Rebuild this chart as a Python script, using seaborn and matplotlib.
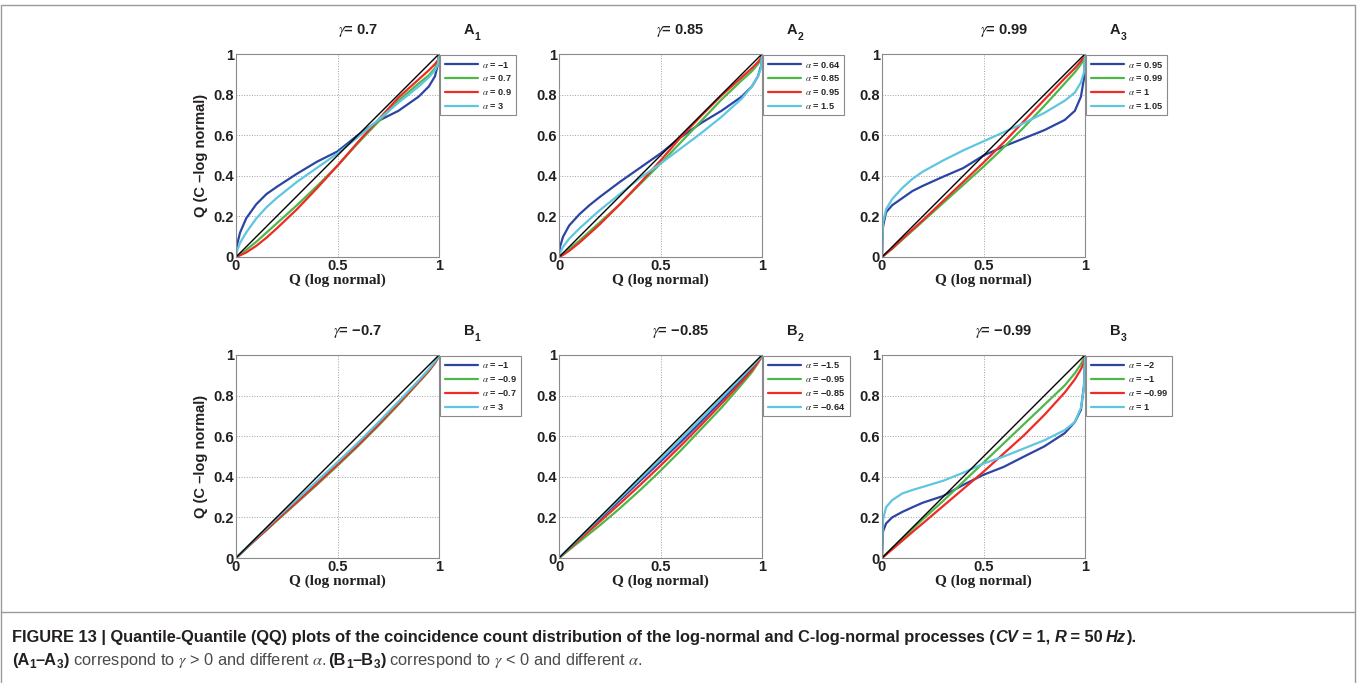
import matplotlib
matplotlib.use("Agg")
import matplotlib.pyplot as plt
from matplotlib.lines import Line2D
from matplotlib import font_manager
import numpy as np
import pandas as pd
import seaborn as sns

# ---------------------------------------------------------------- data
# quantiles of the log-normal process (shared x grid of every panel)
Q = [0, 0.005, 0.02, 0.05, 0.1, 0.15, 0.2, 0.3, 0.4, 0.5, 0.6, 0.7,
     0.8, 0.9, 0.95, 0.98, 0.995, 1]
DIAG = [0, 1]

GAMMAS = ["0.7", "0.85", "0.99", "\u22120.7", "\u22120.85", "\u22120.99"]
PANELS = ["A", "A", "A", "B", "B", "B"]
PANEL_IDX = ["1", "2", "3", "1", "2", "3"]

A1_ALPHAS = ["\u22121", "0.7", "0.9", "3"]
A1_BLUE = [0, 0.06, 0.12, 0.19, 0.26, 0.31, 0.345, 0.41, 0.47, 0.52, 0.60, 0.67, 0.72, 0.79, 0.84, 0.89, 0.95, 1]
A1_GREEN = [0, 0.003, 0.013, 0.035, 0.075, 0.12, 0.165, 0.255, 0.35, 0.45, 0.56, 0.665, 0.77, 0.855, 0.895, 0.93, 0.96, 1]
A1_RED = [0, 0.002, 0.008, 0.022, 0.055, 0.095, 0.14, 0.235, 0.34, 0.45, 0.565, 0.675, 0.785, 0.875, 0.92, 0.95, 0.97, 1]
A1_CYAN = [0, 0.03, 0.07, 0.12, 0.19, 0.245, 0.29, 0.37, 0.44, 0.51, 0.59, 0.675, 0.76, 0.84, 0.885, 0.92, 0.95, 1]

A2_ALPHAS = ["0.64", "0.85", "0.95", "1.5"]
A2_BLUE = [0, 0.05, 0.1, 0.155, 0.21, 0.255, 0.295, 0.37, 0.44, 0.51, 0.59, 0.66, 0.72, 0.79, 0.84, 0.89, 0.94, 1]
A2_GREEN = [0, 0.003, 0.015, 0.04, 0.08, 0.125, 0.17, 0.26, 0.36, 0.46, 0.565, 0.67, 0.775, 0.87, 0.915, 0.95, 0.975, 1]
A2_RED = [0, 0.002, 0.01, 0.03, 0.07, 0.115, 0.16, 0.26, 0.365, 0.475, 0.59, 0.695, 0.795, 0.885, 0.93, 0.96, 0.98, 1]
A2_CYAN = [0, 0.02, 0.05, 0.09, 0.14, 0.185, 0.23, 0.31, 0.39, 0.46, 0.535, 0.61, 0.69, 0.78, 0.84, 0.89, 0.93, 1]

A3_ALPHAS = ["0.95", "0.99", "1", "1.05"]
A3_BLUE = [0, 0.15, 0.22, 0.255, 0.29, 0.325, 0.35, 0.395, 0.438, 0.5, 0.545, 0.585, 0.625, 0.675, 0.72, 0.79, 0.88, 1]
A3_GREEN = [0, 0.004, 0.016, 0.04, 0.085, 0.13, 0.175, 0.265, 0.355, 0.445, 0.54, 0.64, 0.745, 0.855, 0.91, 0.95, 0.975, 1]
A3_RED = [0, 0.004, 0.017, 0.042, 0.09, 0.135, 0.18, 0.275, 0.37, 0.465, 0.565, 0.67, 0.775, 0.88, 0.93, 0.965, 0.985, 1]
A3_CYAN = [0, 0.17, 0.235, 0.285, 0.34, 0.385, 0.42, 0.475, 0.525, 0.57, 0.615, 0.66, 0.71, 0.77, 0.81, 0.86, 0.91, 1]

B1_ALPHAS = ["\u22121", "\u22120.9", "\u22120.7", "3"]
B1_BLUE = [0, 0.005, 0.019, 0.048, 0.095, 0.14, 0.19, 0.28, 0.37, 0.465, 0.56, 0.66, 0.765, 0.87, 0.925, 0.965, 0.99, 1]
B1_GREEN = [0, 0.005, 0.019, 0.047, 0.093, 0.137, 0.183, 0.272, 0.362, 0.455, 0.55, 0.65, 0.755, 0.865, 0.92, 0.96, 0.985, 1]
B1_RED = [0, 0.005, 0.019, 0.048, 0.094, 0.139, 0.186, 0.276, 0.367, 0.46, 0.555, 0.655, 0.76, 0.868, 0.923, 0.962, 0.987, 1]
B1_CYAN = [0, 0.005, 0.02, 0.05, 0.1, 0.147, 0.196, 0.288, 0.38, 0.472, 0.567, 0.667, 0.77, 0.875, 0.93, 0.968, 0.99, 1]

B2_ALPHAS = ["\u22121.5", "\u22120.95", "\u22120.85", "\u22120.64"]
B2_BLUE = [0, 0.005, 0.019, 0.048, 0.096, 0.143, 0.19, 0.285, 0.38, 0.475, 0.572, 0.672, 0.775, 0.88, 0.935, 0.97, 0.99, 1]
B2_GREEN = [0, 0.004, 0.016, 0.04, 0.08, 0.12, 0.16, 0.245, 0.335, 0.43, 0.53, 0.635, 0.74, 0.855, 0.915, 0.96, 0.985, 1]
B2_RED = [0, 0.005, 0.018, 0.045, 0.09, 0.134, 0.178, 0.268, 0.36, 0.455, 0.553, 0.655, 0.76, 0.868, 0.925, 0.965, 0.988, 1]
B2_CYAN = [0, 0.005, 0.02, 0.05, 0.099, 0.148, 0.197, 0.294, 0.39, 0.487, 0.585, 0.685, 0.787, 0.89, 0.943, 0.975, 0.992, 1]

B3_ALPHAS = ["\u22122", "\u22121", "\u22120.99", "1"]
B3_BLUE = [0, 0.13, 0.17, 0.2, 0.227, 0.25, 0.272, 0.305, 0.36, 0.41, 0.449, 0.5, 0.55, 0.615, 0.67, 0.73, 0.85, 1]
B3_GREEN = [0, 0.005, 0.019, 0.048, 0.095, 0.142, 0.19, 0.28, 0.375, 0.47, 0.565, 0.66, 0.755, 0.85, 0.91, 0.955, 0.985, 1]
B3_RED = [0, 0.004, 0.017, 0.042, 0.085, 0.128, 0.17, 0.255, 0.34, 0.425, 0.515, 0.605, 0.705, 0.815, 0.88, 0.93, 0.965, 1]
B3_CYAN = [0, 0.19, 0.25, 0.285, 0.318, 0.335, 0.35, 0.38, 0.42, 0.465, 0.5, 0.54, 0.58, 0.63, 0.67, 0.74, 0.84, 1]

X_TICKS = [0, 0.5, 1]
X_TICK_LABELS = ["0", "0.5", "1"]
Y_TICKS = [0, 0.2, 0.4, 0.6, 0.8, 1]
Y_TICK_LABELS = ["0", "0.2", "0.4", "0.6", "0.8", "1"]

CURVES = [
    (A1_ALPHAS, [A1_BLUE, A1_GREEN, A1_RED, A1_CYAN]),
    (A2_ALPHAS, [A2_BLUE, A2_GREEN, A2_RED, A2_CYAN]),
    (A3_ALPHAS, [A3_BLUE, A3_GREEN, A3_RED, A3_CYAN]),
    (B1_ALPHAS, [B1_BLUE, B1_GREEN, B1_RED, B1_CYAN]),
    (B2_ALPHAS, [B2_BLUE, B2_GREEN, B2_RED, B2_CYAN]),
    (B3_ALPHAS, [B3_BLUE, B3_GREEN, B3_RED, B3_CYAN]),
]

# ---------------------------------------------------------------- style
LINE_COLORS = ["#2c45a3", "#4db848", "#ee2b24", "#5fc6df"]
SPINE = "#8a8a8a"
TEXT = "#231f20"

sns.set_style("white")
plt.rcParams["font.family"] = ["Liberation Sans", "DejaVu Sans"]
plt.rcParams["mathtext.fontset"] = "stix"

available = {f.name for f in font_manager.fontManager.ttflist}
CAPTION_FONT = "Liberation Sans Narrow" if "Liberation Sans Narrow" in available else "Liberation Sans"

W, H = 1357, 683
fig = plt.figure(figsize=(W / 100, H / 100), dpi=100)
fig.patch.set_facecolor("white")

COL_LEFT = [236, 559, 882]
ROW_TOP = [54, 355]
SIZE = 203


def px_rect(left, top, w, h):
    return [left / W, 1 - (top + h) / H, w / W, h / H]


for i, (alphas, ys) in enumerate(CURVES):
    r, c = divmod(i, 3)
    ax = fig.add_axes(px_rect(COL_LEFT[c], ROW_TOP[r], SIZE, SIZE))
    labels = [r"$\alpha$ = " + a for a in alphas]
    df = pd.DataFrame({
        "Q": np.tile(Q, len(ys)),
        "Qc": np.concatenate([np.asarray(y, float) for y in ys]),
        "alpha": np.repeat(labels, len(Q)),
    })
    sns.lineplot(data=df, x="Q", y="Qc", hue="alpha", hue_order=labels,
                 palette=dict(zip(labels, LINE_COLORS)), estimator=None,
                 sort=False, linewidth=1.6, ax=ax)
    sns.lineplot(x=DIAG, y=DIAG, color="black", linewidth=1.0, ax=ax,
                 legend=False)

    ax.set_xlim(0, 1)
    ax.set_ylim(0, 1)
    ax.set_xticks(X_TICKS)
    ax.set_xticklabels(X_TICK_LABELS)
    ax.set_yticks(Y_TICKS)
    ax.set_yticklabels(Y_TICK_LABELS)
    ax.tick_params(direction="in", length=3, width=0.6, color=SPINE,
                   labelsize=10.5, pad=1.5, labelcolor=TEXT)
    for lab in ax.get_xticklabels() + ax.get_yticklabels():
        lab.set_fontweight("bold")
    ax.grid(True, linestyle=":", color="#a0a0a0", linewidth=0.7)
    for sp in ax.spines.values():
        sp.set_color(SPINE)
        sp.set_linewidth(0.8)

    ax.set_xlabel("Q (log normal)", fontsize=11, fontweight="bold",
                  family="Liberation Serif", color=TEXT, labelpad=0)
    if c == 0:
        ax.set_ylabel("Q (C \u2013log normal)", fontsize=10.5,
                      fontweight="bold", color=TEXT, labelpad=4)
    else:
        ax.set_ylabel("")

    ax.text(0.6, 1.118, r"$\gamma$= " + GAMMAS[i], transform=ax.transAxes,
            ha="center", va="center", fontsize=10.5, fontweight="bold",
            color=TEXT)
    ax.text(1.15, 1.118, PANELS[i], transform=ax.transAxes, ha="center",
            va="center", fontsize=10.5, fontweight="bold", color=TEXT)
    ax.text(1.19, 1.085, PANEL_IDX[i], transform=ax.transAxes, ha="center",
            va="center", fontsize=7.5, fontweight="bold", color=TEXT)

    sns.move_legend(ax, "upper left", bbox_to_anchor=(1.0, 1.0), title=None,
                    frameon=True, fancybox=False, framealpha=1,
                    edgecolor=SPINE, prop={"size": 6.6, "weight": "bold"},
                    handlelength=3.6, labelspacing=0.42, borderpad=0.45,
                    borderaxespad=0.15, handletextpad=0.5)
    leg = ax.get_legend()
    leg.get_frame().set_linewidth(0.8)
    for ln in leg.get_lines():
        ln.set_linewidth(1.6)

# ---------------------------------------------------------------- frame
FRAME = "#9a9a9a"
for xs, ys_ in [([1, 1355], [5, 5]), ([1, 1], [5, 683]),
                ([1355, 1355], [5, 683]), ([1, 1355], [612, 612])]:
    fig.add_artist(Line2D([x / W for x in xs], [1 - y / H for y in ys_],
                          transform=fig.transFigure, color=FRAME, lw=1.0))

# ---------------------------------------------------------------- caption
renderer = fig.canvas.get_renderer()


def write_run(x_px, y_px, pieces):
    x = x_px
    for text, kw in pieces:
        style = dict(fontsize=11.8, family=CAPTION_FONT, color=TEXT)
        dy = kw.pop("dy", 0)
        style.update(kw)
        t = fig.text(x / W, 1 - (y_px + dy) / H, text, ha="left",
                     va="baseline", **style)
        x += t.get_window_extent(renderer=renderer).width


B = {"fontweight": "bold"}
BI = {"fontweight": "bold", "fontstyle": "italic"}
SUB = {"fontweight": "bold", "fontsize": 8.5, "dy": 3}
REG = {"color": "#4a4a4a"}

write_run(12, 642, [
    ("FIGURE 13 | Quantile-Quantile (QQ) plots of the coincidence count "
     "distribution of the log-normal and C-log-normal processes (", dict(B)),
    ("CV", dict(BI)), (" = 1, ", dict(B)), ("R", dict(BI)),
    (" = 50\u2009", dict(B)), ("Hz", dict(BI)), (").", dict(B)),
])
write_run(12, 665, [
    ("(A", dict(B)), ("1", dict(SUB)), ("\u2013A", dict(B)), ("3", dict(SUB)),
    (")", dict(B)),
    (r" correspond to $\gamma$ > 0 and different $\alpha$. ", dict(REG)),
    ("(B", dict(B)), ("1", dict(SUB)), ("\u2013B", dict(B)), ("3", dict(SUB)),
    (")", dict(B)),
    (r" correspond to $\gamma$ < 0 and different $\alpha$.", dict(REG)),
])

fig.savefig("out.png", dpi=100, facecolor="white")
